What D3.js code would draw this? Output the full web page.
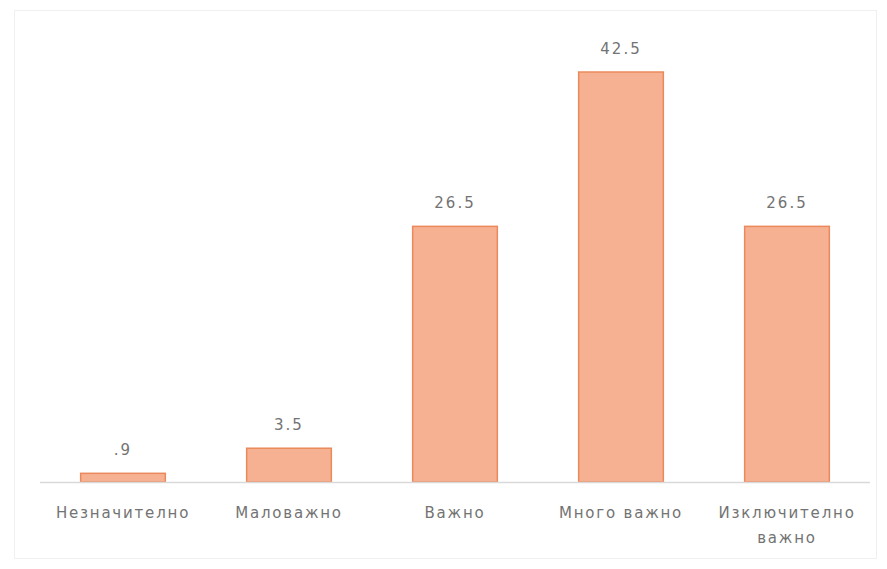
<!DOCTYPE html>
<html><head><meta charset="utf-8">
<script src="https://cdn.jsdelivr.net/npm/d3@7/dist/d3.min.js"></script>
<style>body{margin:0;background:#fff}</style>
</head><body>
<svg id="c" width="887" height="569"></svg>
<script>
const categories = ["Незначително", "Маловажно", "Важно", "Много важно", "Изключително важно"];
const values = [0.9, 3.5, 26.5, 42.5, 26.5];
const valueLabels = [".9", "3.5", "26.5", "42.5", "26.5"];

const svg = d3.select("#c");
svg.append("rect").attr("x", 14.5).attr("y", 10.5).attr("width", 862).attr("height", 548)
  .attr("fill", "#fff").attr("stroke", "#f0f0f0");

const left = 40, right = 870, baseline = 482;
const x = d3.scaleBand().domain(categories).range([left, right]).paddingInner(0.49).paddingOuter(0.245);
const y = d3.scaleLinear().domain([0, 42.5]).range([baseline, 72]);
const font = "DejaVu Sans, Verdana, sans-serif";

const g = svg.append("g");
g.selectAll("rect.bar").data(values).enter().append("rect")
  .attr("class", "bar")
  .attr("x", (d, i) => x(categories[i]))
  .attr("y", d => y(d))
  .attr("width", x.bandwidth())
  .attr("height", d => baseline - y(d))
  .attr("fill", "#F6B092")
  .attr("stroke", "#EA8A5C")
  .attr("stroke-width", 1.5);

g.append("line").attr("x1", left).attr("x2", right).attr("y1", baseline + 0.5).attr("y2", baseline + 0.5)
  .attr("stroke", "#d9d9d9").attr("stroke-width", 1.5);

g.selectAll("text.val").data(values).enter().append("text")
  .attr("class", "val")
  .attr("x", (d, i) => x(categories[i]) + x.bandwidth() / 2)
  .attr("y", d => y(d) - 18)
  .attr("text-anchor", "middle")
  .attr("font-family", font)
  .attr("font-size", 15)
  .attr("letter-spacing", 2)
  .attr("fill", "#737373")
  .text((d, i) => valueLabels[i]);

const xAxis = d3.axisBottom(x).tickSize(0).tickPadding(0);
const ax = svg.append("g").attr("transform", `translate(0,${baseline})`).call(xAxis);
ax.select(".domain").remove();
ax.selectAll("text")
  .attr("font-family", font)
  .attr("font-size", 15)
  .attr("letter-spacing", 1.8)
  .attr("fill", "#737373")
  .attr("dy", null)
  .attr("y", 0)
  .each(function(d) {
    const t = d3.select(this);
    t.text(null);
    const parts = d === "Изключително важно" ? ["Изключително", "важно"] : [d];
    parts.forEach((p, k) => {
      t.append("tspan").attr("x", 0).attr("y", 36 + k * 25).text(p);
    });
  });
</script>
</body></html>
